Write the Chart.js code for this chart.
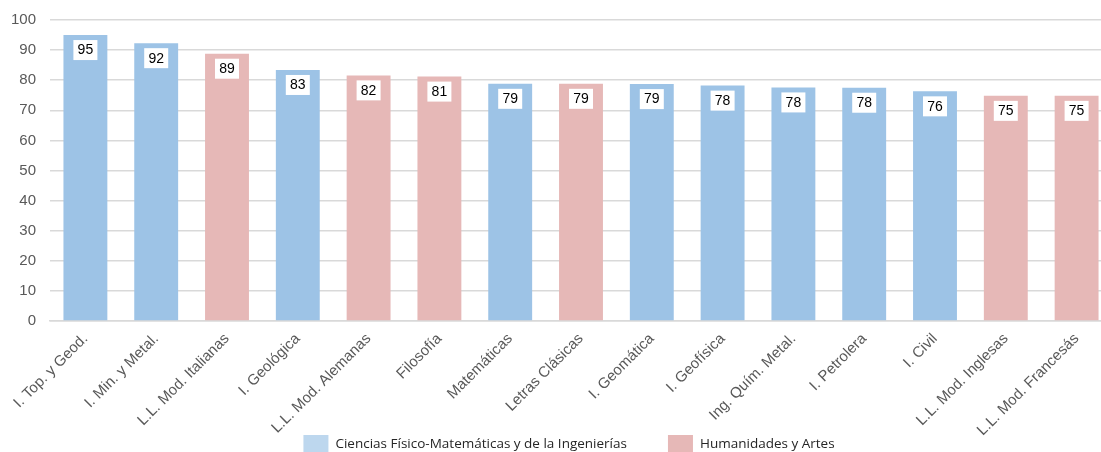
<!DOCTYPE html>
<html>
<head>
<meta charset="utf-8">
<script src="https://cdn.jsdelivr.net/npm/chart.js@4"></script>
<style>
  html, body { margin: 0; padding: 0; background: #fff; overflow: hidden; }
  #wrap { width: 1112px; height: 455px; margin-top: -3px; position: relative; }
</style>
</head>
<body>
<div id="wrap"><canvas id="chart"></canvas></div>
<script>
const categories = ['I. Top. y Geod.', 'I. Min. y Metal.', 'L.L. Mod. Italianas', 'I. Geológica',
  'L.L. Mod. Alemanas', 'Filosofía', 'Matemáticas', 'Letras Clásicas', 'I. Geomática',
  'I. Geofísica', 'Ing. Quím. Metal.', 'I. Petrolera', 'I. Civil', 'L.L. Mod. Inglesas',
  'L.L. Mod. Francesás'];
const values = [95.0, 92.3, 88.8, 83.4, 81.6, 81.2, 78.8, 78.8, 78.7, 78.2, 77.6, 77.5, 76.3, 74.8, 74.8];
// C = Ciencias Físico-Matemáticas..., H = Humanidades y Artes
const groups = ['C', 'C', 'H', 'C', 'H', 'H', 'C', 'H', 'C', 'C', 'C', 'C', 'C', 'H', 'H'];
const seriesNames = ['Ciencias Físico-Matemáticas y de la Ingenierías', 'Humanidades y Artes'];
const legendColors = ['#BDD7EE', '#E6B8B7'];
const yTicks = [0, 10, 20, 30, 40, 50, 60, 70, 80, 90, 100];

const scienceValues = values.map((v, i) => groups[i] === 'C' ? v : null);
const humanValues = values.map((v, i) => groups[i] === 'H' ? v : null);

// white boxes with rounded values near the top of each bar
const valueBoxes = {
    id: 'valueBoxes',
    afterDatasetsDraw(chart) {
        const ctx = chart.ctx;
        ctx.save();
        ctx.font = '14px "Liberation Sans", Arial, sans-serif';
        ctx.textAlign = 'center';
        ctx.textBaseline = 'middle';
        chart.data.datasets.forEach((ds, di) => {
            chart.getDatasetMeta(di).data.forEach((bar, i) => {
                const v = ds.data[i];
                if (v === null) return;
                const top = bar.y + 5;
                ctx.fillStyle = '#fff';
                ctx.fillRect(bar.x - 12, top, 24, 20);
                ctx.fillStyle = '#000';
                ctx.fillText(Math.round(v), bar.x, top + 10.5);
            });
        });
        ctx.restore();
    }
};

// legend row drawn at the very bottom, partly cut like the original
const bottomLegend = {
    id: 'bottomLegend',
    afterDraw(chart) {
        const ctx = chart.ctx;
        ctx.save();
        ctx.font = '13.5px "Open Sans", sans-serif';
        ctx.textBaseline = 'middle';
        const boxW = 25, boxH = 18, textGap = 7, itemGap = 41;
        const widths = seriesNames.map(s => boxW + textGap + ctx.measureText(s).width);
        const total = widths[0] + itemGap + widths[1];
        let x = (chart.chartArea.left + chart.chartArea.right) / 2 - 12 - total / 2;
        const top = chart.height - 17;
        seriesNames.forEach((name, i) => {
            ctx.fillStyle = legendColors[i];
            ctx.fillRect(x, top, boxW, boxH);
            ctx.fillStyle = '#262626';
            ctx.fillText(name, x + boxW + textGap, top + 9);
            x += widths[i] + itemGap;
        });
        ctx.restore();
    }
};

new Chart(document.getElementById('chart'), {
    type: 'bar',
    data: {
        labels: categories,
        datasets: [
            { label: seriesNames[0], data: scienceValues, backgroundColor: '#9DC3E6', skipNull: true },
            { label: seriesNames[1], data: humanValues, backgroundColor: '#E6B8B7', skipNull: true }
        ]
    },
    options: {
        responsive: true,
        maintainAspectRatio: false,
        animation: false,
        layout: { padding: { top: 5, left: 0, right: 0, bottom: 0 } },
        datasets: { bar: { categoryPercentage: 1, barPercentage: 0.62 } },
        scales: {
            y: {
                min: 0,
                max: 100,
                afterBuildTicks(scale) { scale.ticks = yTicks.map(v => ({ value: v })); },
                afterFit(scale) { scale.width = 50; },
                border: { display: false },
                grid: { color: '#D9D9D9', lineWidth: 1.5, drawTicks: false },
                ticks: {
                    padding: 14,
                    color: '#595959',
                    font: { family: '"Liberation Sans", Arial, sans-serif', size: 15 }
                }
            },
            x: {
                afterFit(scale) { scale.height = 131; },
                grid: { display: false },
                border: { color: '#D9D9D9', width: 1.5 },
                ticks: {
                    minRotation: 45,
                    maxRotation: 45,
                    padding: 1,
                    color: '#595959',
                    font: { family: '"Liberation Sans", Arial, sans-serif', size: 15 }
                }
            }
        },
        plugins: {
            legend: { display: false },
            tooltip: { enabled: false }
        }
    },
    plugins: [valueBoxes, bottomLegend]
});
</script>
</body>
</html>
